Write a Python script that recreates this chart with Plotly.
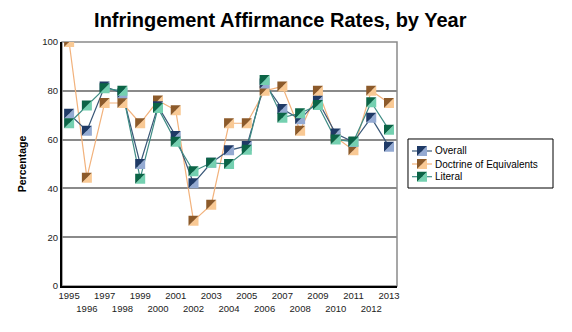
import plotly.graph_objects as go

years = list(range(1995, 2014))
overall = [70.6, 63.6, 81.8, 79.0, 50.0, 73.7, 61.5, 42.1, 50.5, 55.6, 57.4, 83.0, 72.5, 68.3, 75.9, 62.5, 59.0, 69.0, 57.1]
doe = [100.0, 44.4, 75.0, 75.0, 66.7, 76.0, 72.0, 26.7, 33.3, 66.7, 66.7, 80.0, 81.8, 63.6, 80.0, 61.0, 55.6, 80.0, 75.0]
literal = [66.7, 74.0, 81.0, 80.0, 44.0, 73.0, 59.1, 47.0, 50.5, 50.0, 55.8, 84.4, 69.0, 70.8, 74.2, 60.0, 59.2, 75.3, 64.0]
series_names = ["Overall", "Doctrine of Equivalents", "Literal"]
y_ticks = [0, 20, 40, 60, 80, 100]
tick_text = [str(y) if (y - 1995) % 2 == 0 else "<br>" + str(y) for y in years]

styles = {
    "Overall": dict(line="#3a5878", dark="#1f3a66", light="#94aad2"),
    "Doctrine of Equivalents": dict(line="#f2b27c", dark="#8c5a2a", light="#f9c994"),
    "Literal": dict(line="#3f8c84", dark="#0b6446", light="#74d0b0"),
}
draw_order = [("Doctrine of Equivalents", doe), ("Overall", overall), ("Literal", literal)]

TRI_LIGHT = "M5,5 L5,-5 L-5,-5 Z"
TRI_DARK = "M-5,-5 L-5,5 L5,5 Z"

fig = go.Figure()
shapes = [dict(type="rect", xref="paper", yref="paper", x0=0, x1=1, y0=0, y1=1,
               line=dict(color="#8a8a8a", width=1.5), layer="below")]

for name, vals in draw_order:
    st = styles[name]
    fig.add_trace(go.Scatter(
        x=years, y=vals, name=name, mode="lines",
        line=dict(color=st["line"], width=1.2),
        cliponaxis=False, showlegend=False))

for name, vals in draw_order:
    st = styles[name]
    for xv, yv in zip(years, vals):
        shapes.append(dict(type="path", xref="x", yref="y", xsizemode="pixel", ysizemode="pixel",
                           xanchor=xv, yanchor=yv, path=TRI_LIGHT,
                           fillcolor=st["light"], line=dict(width=0), layer="above"))
        shapes.append(dict(type="path", xref="x", yref="y", xsizemode="pixel", ysizemode="pixel",
                           xanchor=xv, yanchor=yv, path=TRI_DARK,
                           fillcolor=st["dark"], line=dict(width=0), layer="above"))

# hand-built legend (paper coordinates)
leg_x0, leg_x1, leg_y0, leg_y1 = 1.0328, 1.4657, 0.4016, 0.6025
leg_rows = [0.5533, 0.5000, 0.4480]
sym_x = 1.0746
text_x = 1.1075
shapes.append(dict(type="rect", xref="paper", yref="paper", x0=leg_x0, x1=leg_x1, y0=leg_y0, y1=leg_y1,
                   line=dict(color="#000", width=1), fillcolor="white", layer="above"))
annotations = []
for name, ry in zip(series_names, leg_rows):
    st = styles[name]
    shapes.append(dict(type="line", xref="paper", yref="paper", xsizemode="pixel", ysizemode="pixel",
                       xanchor=sym_x, yanchor=ry, x0=-10, x1=10, y0=0, y1=0,
                       line=dict(color=st["line"], width=1.2), layer="above"))
    shapes.append(dict(type="path", xref="paper", yref="paper", xsizemode="pixel", ysizemode="pixel",
                       xanchor=sym_x, yanchor=ry, path=TRI_LIGHT,
                       fillcolor=st["light"], line=dict(width=0), layer="above"))
    shapes.append(dict(type="path", xref="paper", yref="paper", xsizemode="pixel", ysizemode="pixel",
                       xanchor=sym_x, yanchor=ry, path=TRI_DARK,
                       fillcolor=st["dark"], line=dict(width=0), layer="above"))
    annotations.append(dict(xref="paper", yref="paper", x=text_x, y=ry, xanchor="left", yanchor="middle",
                            text=name, showarrow=False, font=dict(size=10, color="#000")))

fig.update_layout(
    width=572, height=332,
    margin=dict(l=62, r=175, t=42, b=46),
    paper_bgcolor="white", plot_bgcolor="white",
    font=dict(family="Liberation Sans, Arial, sans-serif", size=10, color="#222"),
    title=dict(text="<b>Infringement Affirmance Rates, by Year</b>", x=0.49, xanchor="center",
               y=0.94, yanchor="middle", font=dict(size=20, color="#000")),
    shapes=shapes,
    annotations=annotations,
    showlegend=False,
    xaxis=dict(range=[1994.6, 2013.45], tickvals=years, ticktext=tick_text, tickangle=0,
               showgrid=False, zeroline=False, showline=True, linecolor="#000", linewidth=2,
               ticks="", tickfont=dict(family="Liberation Sans Narrow, Arial Narrow, Liberation Sans", size=9.5, color="#222"),
               fixedrange=True),
    yaxis=dict(range=[0, 100], tickvals=y_ticks, showgrid=True, gridcolor="#8a8a8a", gridwidth=2,
               zeroline=False, showline=True, linecolor="#000", linewidth=2, ticks="",
               tickfont=dict(size=9.5, color="#222"),
               title=dict(text="<b>Percentage</b>", font=dict(size=10.5, color="#000"), standoff=14)),
)

fig.write_html("out.html")
